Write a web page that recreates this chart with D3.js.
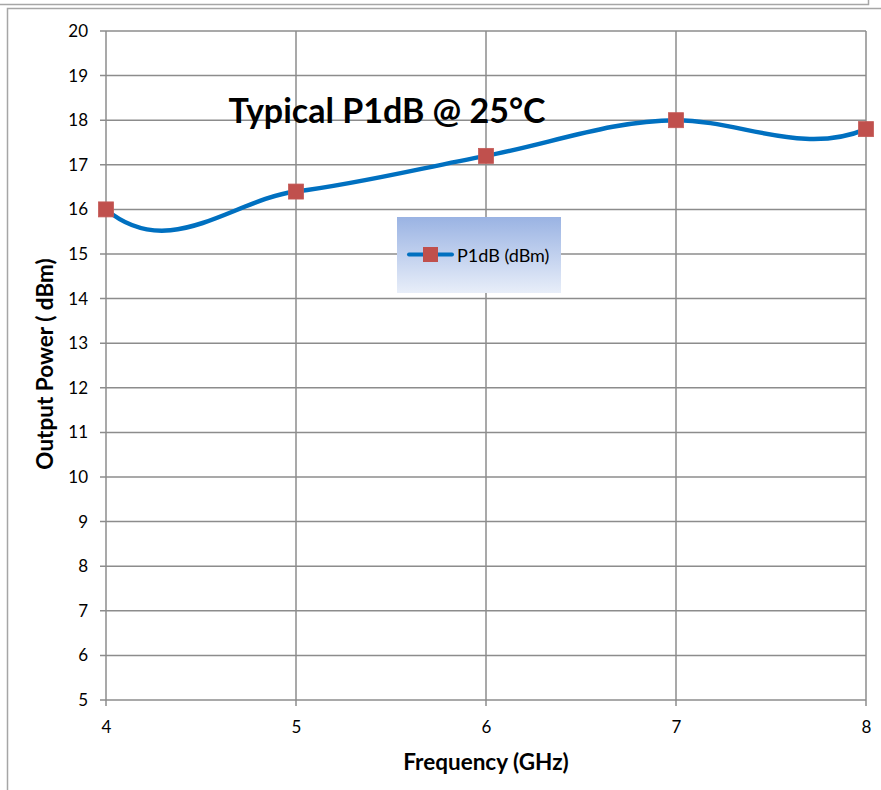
<!DOCTYPE html>
<html>
<head>
<meta charset="utf-8">
<script src="https://cdn.jsdelivr.net/npm/d3@7"></script>
<style>
  body { margin: 0; background: #fff; }
  svg text { font-family: Lato, "Open Sans", sans-serif; fill: #000; }
</style>
</head>
<body>
<div id="chart"></div>
<script>
const freqs = [4, 5, 6, 7, 8];
const p1dB = [16, 16.4, 17.2, 18, 17.8];
const yTicks = [5, 6, 7, 8, 9, 10, 11, 12, 13, 14, 15, 16, 17, 18, 19, 20];
const xTicks = [4, 5, 6, 7, 8];
const seriesName = "P1dB (dBm)";

const W = 881, H = 790;
const plot = { left: 106, right: 866, top: 31, bottom: 700 };

// smoothing close to the spreadsheet's: flat at turning points,
// ends swing back against the first/last chord
function curveSheetSmooth(context) {
  const endFactor = -9;
  let xs, ys;
  return {
    areaStart() {},
    areaEnd() {},
    lineStart() { xs = []; ys = []; },
    point(px, py) { xs.push(+px); ys.push(+py); },
    lineEnd() {
      const n = xs.length;
      if (!n) return;
      context.moveTo(xs[0], ys[0]);
      if (n < 3) { for (let i = 1; i < n; i++) context.lineTo(xs[i], ys[i]); return; }
      const d = [];
      for (let i = 0; i < n - 1; i++) d.push((ys[i + 1] - ys[i]) / (xs[i + 1] - xs[i]));
      const m = new Array(n);
      for (let i = 1; i < n - 1; i++) {
        m[i] = d[i - 1] * d[i] <= 0 ? 0 : (2 * d[i - 1] * d[i]) / (d[i - 1] + d[i]);
      }
      m[0] = endFactor * d[0];
      m[n - 1] = endFactor * d[n - 2];
      for (let i = 0; i < n - 1; i++) {
        const h = xs[i + 1] - xs[i];
        context.bezierCurveTo(
          xs[i] + h / 3, ys[i] + (m[i] * h) / 3,
          xs[i + 1] - h / 3, ys[i + 1] - (m[i + 1] * h) / 3,
          xs[i + 1], ys[i + 1]
        );
      }
    }
  };
}

const svg = d3
  .select("#chart")
  .append("svg")
  .attr("width", W)
  .attr("height", H);

// frames of the surrounding page
svg.append("path")
  .attr("d", `M0,4.5 H868.5 V0`)
  .attr("fill", "none")
  .attr("stroke", "#a6a6a6")
  .attr("stroke-width", 1.5);
svg.append("path")
  .attr("d", `M7.5,${H} V8.5 H${W}`)
  .attr("fill", "none")
  .attr("stroke", "#a6a6a6")
  .attr("stroke-width", 1.5);

const x = d3.scaleLinear().domain([4, 8]).range([plot.left, plot.right]);
const y = d3.scaleLinear().domain([5, 20]).range([plot.bottom, plot.top]);

// gridlines
svg.append("g")
  .selectAll("line")
  .data(yTicks)
  .enter()
  .append("line")
  .attr("x1", plot.left - 6)
  .attr("x2", plot.right)
  .attr("y1", (d) => y(d))
  .attr("y2", (d) => y(d))
  .attr("stroke", "#8c8c8c")
  .attr("stroke-width", 1.5);

svg.append("g")
  .selectAll("line")
  .data(xTicks)
  .enter()
  .append("line")
  .attr("x1", (d) => x(d))
  .attr("x2", (d) => x(d))
  .attr("y1", plot.top)
  .attr("y2", plot.bottom + 6)
  .attr("stroke", "#8c8c8c")
  .attr("stroke-width", 1.5);

// axes (labels only, lines drawn above)
const yAxis = d3.axisLeft(y).tickValues(yTicks).tickSize(0).tickPadding(18);
const gy = svg.append("g")
  .attr("transform", `translate(${plot.left},0)`)
  .call(yAxis);
gy.select(".domain").remove();
gy.selectAll("text").attr("font-size", 17).style("font-family", "Lato, sans-serif");

const xAxis = d3.axisBottom(x).tickValues(xTicks).tickFormat(d3.format("d")).tickSize(0).tickPadding(21);
const gx = svg.append("g")
  .attr("transform", `translate(0,${plot.bottom})`)
  .call(xAxis);
gx.select(".domain").remove();
gx.selectAll("text").attr("font-size", 17).style("font-family", "Lato, sans-serif");

// axis titles
svg.append("text")
  .attr("x", 486)
  .attr("y", 770)
  .attr("text-anchor", "middle")
  .attr("font-size", 22.5)
  .attr("font-weight", "bold")
  .text("Frequency (GHz)");

svg.append("text")
  .attr("transform", "translate(53,364) rotate(-90)")
  .attr("text-anchor", "middle")
  .attr("font-size", 22.5)
  .attr("font-weight", "bold")
  .text("Output Power ( dBm)");

// series line
const line = d3.line()
  .x((d, i) => x(freqs[i]))
  .y((d) => y(d))
  .curve(curveSheetSmooth);

svg.append("path")
  .datum(p1dB)
  .attr("fill", "none")
  .attr("stroke", "#0070c0")
  .attr("stroke-width", 4.5)
  .attr("d", line);

const mk = 15;
svg.append("g")
  .selectAll("rect")
  .data(p1dB)
  .enter()
  .append("rect")
  .attr("x", (d, i) => x(freqs[i]) - mk / 2)
  .attr("y", (d) => y(d) - mk / 2)
  .attr("width", mk)
  .attr("height", mk)
  .attr("fill", "#c0504d")
  .attr("stroke", "#c55a57")
  .attr("stroke-width", 0.8);

// title
svg.append("text")
  .attr("x", 387)
  .attr("y", 123)
  .attr("text-anchor", "middle")
  .attr("font-size", 34)
  .attr("font-weight", "bold")
  .text("Typical P1dB @ 25°C");

// legend
const defs = svg.append("defs");
const grad = defs.append("linearGradient")
  .attr("id", "legGrad")
  .attr("x1", 0).attr("y1", 0).attr("x2", 0).attr("y2", 1);
grad.append("stop").attr("offset", "0%").attr("stop-color", "#9ab3e3");
grad.append("stop").attr("offset", "100%").attr("stop-color", "#e8eef9");

const leg = svg.append("g").attr("transform", "translate(397,217)");
leg.append("rect")
  .attr("width", 164)
  .attr("height", 76)
  .attr("fill", "url(#legGrad)");
leg.append("line")
  .attr("x1", 12).attr("x2", 55)
  .attr("y1", 37.5).attr("y2", 37.5)
  .attr("stroke", "#0070c0")
  .attr("stroke-width", 4)
  .attr("stroke-linecap", "round");
leg.append("rect")
  .attr("x", 26).attr("y", 30)
  .attr("width", 15).attr("height", 15)
  .attr("fill", "#c0504d");
leg.append("text")
  .attr("x", 60)
  .attr("y", 45)
  .attr("font-size", 18)
  .text(seriesName);
</script>
</body>
</html>
